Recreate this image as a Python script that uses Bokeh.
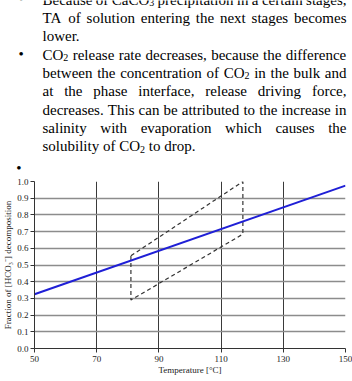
from bokeh.plotting import figure
from bokeh.layouts import column
from bokeh.models import Range1d, FixedTicker, PrintfTickFormatter, ColumnDataSource
from bokeh.core.properties import value
from bokeh.embed import file_html
from bokeh.resources import INLINE

# ---------------- data ----------------
temp_line = [50, 150]
frac_line = [0.325, 0.975]

box_temp = [81, 117, 117, 81, 81]
box_frac = [0.555, 1.0, 0.685, 0.29, 0.555]

x_ticks = [50, 70, 90, 110, 130, 150]
y_ticks = [0.0, 0.1, 0.2, 0.3, 0.4, 0.5, 0.6, 0.7, 0.8, 0.9, 1.0]

x_title = "Temperature [°C]"
y_title = "Fraction of [HCO₃⁻] decomposition"

para_text = [
    "Because of CaCO_3 precipitation in a certain stages,",
    "TA of solution entering the next stages becomes",
    "lower.",
    "CO_2 release rate decreases, because the difference",
    "between the concentration of CO_2 in the bulk and",
    "at the phase interface, release driving force,",
    "decreases. This can be attributed to the increase in",
    "salinity with evaporation which causes the",
    "solubility of CO_2 to drop.",
]
para_justify = [True, True, False, True, True, True, True, True, False]
para_bullet = [True, False, False, True, False, False, False, False, False]
bullet_char = "•"

# ---------------- layout ----------------
W, H = 352, 381
TOP_H = 175                      # height of the text panel
L, R, T, B = 34, 345, 181, 348   # plot frame in page pixels
FONT = "Liberation Serif"

AFM = {' ': 250, ',': 250, '.': 250, '-': 333, '[': 333, ']': 333,
       '0': 500, '1': 500, '2': 500, '3': 500, '4': 500, '5': 500,
       'A': 722, 'B': 667, 'C': 667, 'D': 722, 'E': 611, 'F': 556, 'G': 722,
       'H': 722, 'I': 333, 'O': 722, 'T': 611, 'S': 556,
       'a': 444, 'b': 500, 'c': 444, 'd': 500, 'e': 444, 'f': 333, 'g': 500,
       'h': 500, 'i': 278, 'j': 278, 'k': 500, 'l': 278, 'm': 778, 'n': 500,
       'o': 500, 'p': 500, 'q': 500, 'r': 333, 's': 389, 't': 278, 'u': 500,
       'v': 500, 'w': 722, 'x': 500, 'y': 500, 'z': 444}

FS, SUB_FS, SUB_DROP = 15, 10, 3
TXT_L, TXT_R = 42.0, 346.0
SHIFT = -6.0
BASE0, LEAD = 5.1 + SHIFT, 18.33


def segments(word):
    parts = word.split("_")
    segs = [(parts[0], False)]
    for part in parts[1:]:
        segs.append((part[0], True))
        if part[1:]:
            segs.append((part[1:], False))
    return segs


def seg_w(text, sub):
    return sum(AFM.get(c, 500) for c in text) * (SUB_FS if sub else FS) / 1000.0


# ---------- text panel (page pixels as data units) ----------
tp = figure(width=W, height=TOP_H, x_range=Range1d(0, W), y_range=Range1d(TOP_H, 0),
            output_backend="svg", toolbar_location=None, title=None,
            x_axis_type=None, y_axis_type=None, min_border=0)
tp.frame_align = False
tp.grid.visible = False
tp.outline_line_color = None
tp.background_fill_color = "white"
tp.border_fill_color = "white"

main = dict(x=[], y=[], text=[])
subs = dict(x=[], y=[], text=[])
bullets = dict(x=[], y=[], text=[])
for i, line in enumerate(para_text):
    base = BASE0 + i * LEAD
    words = line.split(" ")
    wsegs = [segments(w) for w in words]
    widths = [sum(seg_w(t, s) for t, s in sg) for sg in wsegs]
    if para_justify[i] and len(words) > 1:
        gap = (TXT_R - TXT_L - sum(widths)) / (len(words) - 1)
    else:
        gap = AFM[' '] * FS / 1000.0
    x = TXT_L
    for sg, w in zip(wsegs, widths):
        sx = x
        for t, sub in sg:
            d = subs if sub else main
            d["x"].append(sx)
            d["y"].append(base + (SUB_DROP if sub else 0))
            d["text"].append(t)
            sx += seg_w(t, sub)
        x += w + gap
    if para_bullet[i]:
        bullets["x"].append(18.0); bullets["y"].append(base - 1.0); bullets["text"].append(bullet_char)
bullets["x"].append(15.8); bullets["y"].append(167.0); bullets["text"].append(bullet_char)

for d, size in ((main, "15px"), (subs, "10px"), (bullets, "15px")):
    tp.text(x="x", y="y", text="text", source=ColumnDataSource(d), text_font=value(FONT),
            text_font_size=value(size), text_align="left", text_baseline="alphabetic",
            text_color="black")

# ---------- chart ----------
p = figure(width=W, height=H - TOP_H, x_range=Range1d(50, 150), y_range=Range1d(0, 1),
           output_backend="svg", toolbar_location=None, title=None,
           min_border_left=L, min_border_right=W - R,
           min_border_top=T - TOP_H, min_border_bottom=H - B)
p.frame_align = False
p.outline_line_color = None
p.background_fill_color = "white"
p.border_fill_color = "white"

p.xaxis.ticker = FixedTicker(ticks=x_ticks)
p.yaxis.ticker = FixedTicker(ticks=y_ticks)
p.xgrid.ticker = FixedTicker(ticks=x_ticks)
p.ygrid.ticker = FixedTicker(ticks=y_ticks)
p.yaxis.formatter = PrintfTickFormatter(format="%.1f")
for ax in (p.xaxis[0], p.yaxis[0]):
    ax.minor_tick_line_color = None
    ax.major_tick_in = 0
    ax.axis_line_color = "#333333"
    ax.major_tick_line_color = "#333333"
    ax.major_label_text_font = FONT
    ax.major_label_text_font_size = "9px"
    ax.major_label_text_color = "#222222"
    ax.axis_label_text_font = FONT
    ax.axis_label_text_font_size = "9px"
    ax.axis_label_text_font_style = "normal"
    ax.axis_label_text_color = "#222222"
p.xaxis.axis_label = x_title
p.yaxis.axis_label = y_title
p.xaxis.major_tick_out = 4
p.xaxis.major_label_standoff = 3
p.xaxis.axis_label_standoff = 0
p.yaxis.major_tick_out = 4
p.yaxis.major_label_standoff = 2
p.yaxis.axis_label_standoff = 1

p.xgrid.grid_line_color = "#3a3a3a"
p.xgrid.grid_line_width = 1
p.ygrid.grid_line_color = "#8c8c8c"
p.ygrid.grid_line_width = 1.3

p.line(box_temp, box_frac, line_color="#333333", line_width=1.2, line_dash="4 3")
p.line(temp_line, frac_line, line_color="#1f1fd6", line_width=2)

layout = column(tp, p, spacing=0)
open("out.html", "w").write(file_html(layout, INLINE))
